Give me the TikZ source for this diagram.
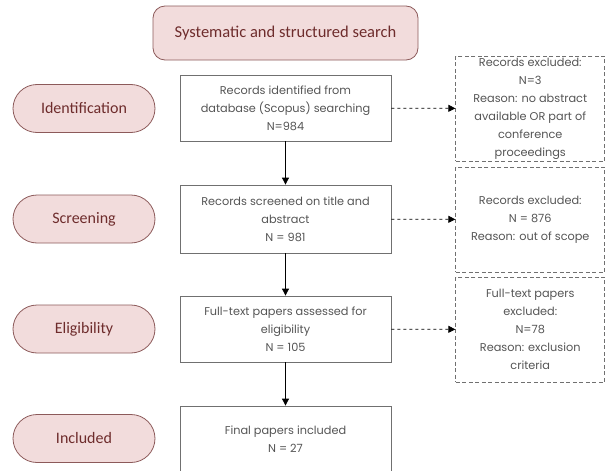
\documentclass[tikz,border=0pt]{standalone}
\usepackage{fontspec}
\setmainfont{Poppins}
\newfontfamily\pillfont{Carlito}
\usetikzlibrary{arrows.meta}
\definecolor{pillfill}{HTML}{F2DCDC}
\definecolor{pilldraw}{HTML}{8C5A5A}
\definecolor{pilltext}{HTML}{6E2C2C}
\definecolor{boxtext}{HTML}{555555}
\definecolor{boxdraw}{HTML}{707070}
\begin{document}
\begin{tikzpicture}[x=1pt, y=-1pt,
    stage/.style={draw=pilldraw, fill=pillfill, text=pilltext, line width=0.8pt,
              rounded corners=24pt, minimum width=142pt, minimum height=48pt,
              font=\pillfont\fontsize{16}{18}\selectfont},
    procbox/.style={draw=boxdraw, text=boxtext, line width=0.8pt, align=center,
              minimum width=211pt, minimum height=66pt, inner sep=1pt,
              font=\fontsize{11.3}{18}\selectfont},
    exclbox/.style={procbox, dashed, dash pattern=on 4pt off 2.5pt, inner sep=0pt,
              minimum width=149pt, minimum height=105pt},
    flow/.style={draw=black, line width=0.8pt, -{Triangle[length=7pt,width=7pt]}}]
    \useasboundingbox (0,0) rectangle (606,471);
    \node[stage, rounded corners=12pt, minimum width=265pt, minimum height=54pt,
        font=\pillfont\fontsize{16.5}{18}\selectfont]
        (search) at (285.5,33) {Systematic and structured search};
    \foreach \name/\ypos/\txt in {ident/108.5/Identification, screen/219/Screening,
            elig/329/Eligibility, incl/438.5/Included}{
        \node[stage] (\name) at (84,\ypos) {\txt};
    };
    \node[procbox] (found) at (285.5,108) {Records identified from\\database (Scopus) searching\\N=984};
    \node[procbox, minimum height=68pt] (screened) at (285.5,219) {Records screened on title and\\abstract\\N = 981};
    \node[procbox] (assessed) at (285.5,329) {Full-text papers assessed for\\eligibility\\N = 105};
    \node[procbox] (final) at (285.5,439) {Final papers included\\N = 27};
    \node[exclbox] (excl1) at (530.25,108.5) {Records excluded:\\N=3\\Reason: no abstract\\available OR part of\\conference\\proceedings};
    \node[exclbox] (excl2) at (530.25,219.5) {Records excluded:\\N = 876\\Reason: out of scope};
    \node[exclbox] (excl3) at (530.25,329.5) {Full-text papers\\excluded:\\N=78\\Reason: exclusion\\criteria};
    \draw[flow] (found) -- (screened);
    \draw[flow] (screened) -- (assessed);
    \draw[flow] (assessed) -- (final);
    \draw[flow, dashed] (found) -- (excl1);
    \draw[flow, dashed] (screened) -- (excl2);
    \draw[flow, dashed] (assessed) -- (excl3);
\end{tikzpicture}
\end{document}
